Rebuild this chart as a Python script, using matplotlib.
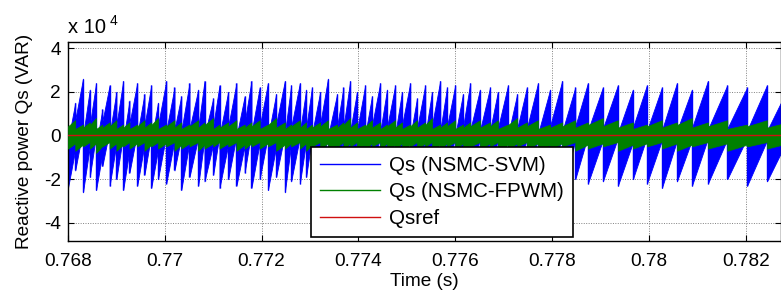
import numpy as np
import matplotlib
matplotlib.use("Agg")
import matplotlib.pyplot as plt

plt.rcParams['font.family'] = ['Liberation Sans', 'DejaVu Sans']

# tooth boundaries of the Qs (NSMC-SVM) ripple (s)
svm_t = [0.76800, 0.76815, 0.76831, 0.76845, 0.76858, 0.76871, 0.76886, 0.76900,
         0.76914, 0.76927, 0.76943, 0.76958, 0.76972, 0.76986, 0.77003, 0.77020,
         0.77034, 0.77051, 0.77069, 0.77082, 0.77100, 0.77113, 0.77131, 0.77148,
         0.77165, 0.77179, 0.77196, 0.77213, 0.77230, 0.77248, 0.77261, 0.77279,
         0.77292, 0.77304, 0.77321, 0.77337, 0.77356, 0.77369, 0.77383, 0.77397,
         0.77414, 0.77428, 0.77445, 0.77459, 0.77476, 0.77490, 0.77507, 0.77521,
         0.77538, 0.77552, 0.77569, 0.77583, 0.77600, 0.77616, 0.77631, 0.77651,
         0.77672, 0.77688, 0.77709, 0.77728, 0.77748, 0.77771, 0.77796, 0.77821,
         0.77848, 0.77874, 0.77905, 0.77936, 0.77967, 0.77996, 0.78027, 0.78058,
         0.78089, 0.78122, 0.78162, 0.78203, 0.78244, 0.78286]

# peak / trough of each tooth (x 1e4 VAR)
svm_hi = [1.5, 2.6, 2.1, 2.4, 1.2, 2.3, 2.0, 2.5, 1.6, 2.4, 1.9,
          2.3, 1.5, 2.5, 2.2, 1.8, 2.4, 2.1, 2.5, 1.7, 2.3, 2.0,
          2.4, 1.8, 2.5, 2.2, 2.4, 1.9, 2.5, 2.3, 2.4, 2.1, 2.2,
          2.0, 2.6, 1.9, 2.2, 2.5, 2.0, 2.3, 1.8, 2.4, 2.1, 2.3,
          2.0, 2.4, 1.7, 2.3, 2.0, 2.5, 2.2, 2.3, 1.9, 2.4, 2.1,
          2.2, 2.0, 2.3, 1.9, 2.2, 2.4, 2.1, 2.5, 2.2, 2.4, 2.2,
          2.3, 2.1, 2.3, 2.2, 2.4, 2.1, 2.5, 2.3, 2.2, 2.3, 2.1]
svm_lo = [-2.4, -1.6, -2.6, -1.9, -2.5, -1.4, -2.3, -2.0, -2.5, -1.7, -2.3,
          -1.8, -2.4, -2.0, -2.2, -1.6, -2.5, -1.9, -2.3, -2.1, -1.8, -2.4,
          -2.0, -2.3, -1.7, -2.4, -2.0, -2.5, -1.9, -2.6, -2.1, -2.2, -1.9,
          -2.3, -2.0, -2.4, -1.8, -2.2, -2.0, -2.3, -2.1, -1.9, -2.2, -2.0,
          -2.3, -1.9, -2.2, -2.1, -2.4, -2.0, -2.2, -1.9, -2.3, -2.1, -2.0,
          -2.2, -1.9, -2.1, -2.3, -2.0, -2.2, -2.4, -2.1, -2.3, -2.0, -2.2,
          -2.1, -2.3, -2.0, -2.2, -2.4, -2.1, -2.3, -2.2, -2.0, -2.3, -2.1]

# Qs (NSMC-FPWM) ripple envelope per tooth (x 1e4 VAR)
fpwm_hi = [0.7, 0.5, 0.6, 0.8, 0.5, 0.6, 0.7, 0.5, 0.6, 0.5, 0.7,
           0.6, 0.8, 0.5, 0.7, 0.6, 0.5, 0.7, 0.6, 0.8, 0.5, 0.6,
           0.7, 0.5, 0.6, 0.7, 0.5, 0.8, 0.6, 0.5, 0.7, 0.6, 0.5,
           0.6, 0.7, 0.5, 0.6, 0.8, 0.6, 0.5, 0.7, 0.6, 0.5, 0.7,
           0.6, 0.5, 0.7, 0.6, 0.8, 0.5, 0.6, 0.7, 0.5, 0.6, 0.7,
           0.6, 0.7, 0.5, 0.8, 0.6, 0.7, 0.5, 0.6, 0.7, 0.6, 0.8,
           0.7, 0.6, 0.5, 0.7, 0.6, 0.8, 0.6, 0.7, 0.5, 0.7, 0.6]
fpwm_lo = [-0.6, -0.7, -0.5, -0.6, -0.8, -0.5, -0.6, -0.7, -0.5, -0.6, -0.5,
           -0.7, -0.5, -0.6, -0.5, -0.7, -0.6, -0.5, -0.7, -0.6, -0.5, -0.6,
           -0.5, -0.7, -0.6, -0.5, -0.6, -0.5, -0.7, -0.6, -0.5, -0.6, -0.7,
           -0.5, -0.6, -0.7, -0.5, -0.6, -0.5, -0.7, -0.6, -0.5, -0.6, -0.7,
           -0.6, -0.7, -0.5, -0.6, -0.5, -0.7, -0.6, -0.5, -0.6, -0.7, -0.5,
           -0.6, -0.5, -0.7, -0.6, -0.5, -0.6, -0.7, -0.6, -0.5, -0.7, -0.6,
           -0.5, -0.7, -0.6, -0.5, -0.6, -0.7, -0.5, -0.6, -0.7, -0.5, -0.6]

qsref_t = [0.768, 0.7830]
qsref = [0.0, 0.0]

xticks = [0.768, 0.770, 0.772, 0.774, 0.776, 0.778, 0.780, 0.782]
xlabels = ['0.768', '0.77', '0.772', '0.774', '0.776', '0.778', '0.78', '0.782']
yticks = [-4e4, -2e4, 0, 2e4, 4e4]
ylabels = ['-4', '-2', '0', '2', '4']

FS = 13.7


# sawtooth envelopes: each tooth ramps up and drops at its right edge
def sawtooth(t, hi, lo, band):
    t = np.asarray(t)
    hi = np.asarray(hi) * 1e4
    lo = np.asarray(lo) * 1e4
    w = band * (hi - lo)
    xs = np.repeat(t, 2)[1:-1]
    up = np.column_stack([lo + w, hi]).ravel()
    dn = np.column_stack([lo, hi - w]).ravel()
    return xs, up, dn


fig = plt.figure(figsize=(7.81, 2.91), dpi=100)
ax = fig.add_axes([68 / 781, 50 / 291, 713 / 781, 199 / 291])

x, up, dn = sawtooth(svm_t, svm_hi, svm_lo, 0.55)
ax.fill_between(x, dn, up, color='#0000ff', lw=0.6, zorder=2)
ax.vlines(svm_t[1:-1], np.array(svm_lo[1:]) * 1e4, np.array(svm_hi[:-1]) * 1e4,
          color='#0000ff', lw=1.0, zorder=2)
ax.plot([], [], color='#0000ff', lw=1, label='Qs (NSMC-SVM)')

gt = np.repeat(svm_t, 2)[1:-1]
g_up = np.column_stack([np.array(fpwm_hi) * 0.6, fpwm_hi]).ravel() * 1e4
g_dn = np.column_stack([fpwm_lo, np.array(fpwm_lo) * 0.6]).ravel() * 1e4
ax.fill_between(gt, g_dn, g_up, color='#008000', lw=0.5, zorder=3)
ax.plot([], [], color='#008000', lw=1, label='Qs (NSMC-FPWM)')

ax.plot(qsref_t, qsref, color='#d01010', lw=1.0, zorder=4, label='Qsref')

ax.set_xlim(0.768, 0.78273)
ax.set_ylim(-4.83e4, 4.28e4)
ax.set_xticks(xticks)
ax.set_xticklabels(xlabels, fontsize=FS)
ax.set_yticks(yticks)
ax.set_yticklabels(ylabels, fontsize=FS)
ax.tick_params(direction='in', length=4, width=0.8, top=True, right=True)
ax.tick_params(axis='x', pad=9)
ax.tick_params(axis='y', pad=5)
ax.grid(True, color='0.5', ls=(0, (1, 1.5)), lw=0.7)
for s in ax.spines.values():
    s.set_linewidth(1.0)

ax.set_xlabel('Time (s)', fontsize=FS, labelpad=1.5)
ax.set_ylabel('Reactive power Qs (VAR)', fontsize=FS)
ax.yaxis.set_label_coords(-0.049, 0.5)

fig.text(68 / 781, 1 - 33 / 291, 'x 10', fontsize=14.5, ha='left', va='baseline')
fig.text(110 / 781, 1 - 25 / 291, '4', fontsize=10, ha='left', va='baseline')

leg = ax.legend(loc='lower left', bbox_to_anchor=(0.341, 0.02), fontsize=14.8,
                handlelength=2.9, handletextpad=0.44, labelspacing=0.36,
                borderpad=0.45, borderaxespad=0, fancybox=False, framealpha=1)
leg.get_frame().set_edgecolor('black')
leg.get_frame().set_linewidth(1.2)
leg.set_zorder(10)

fig.savefig('out.png', dpi=100)
